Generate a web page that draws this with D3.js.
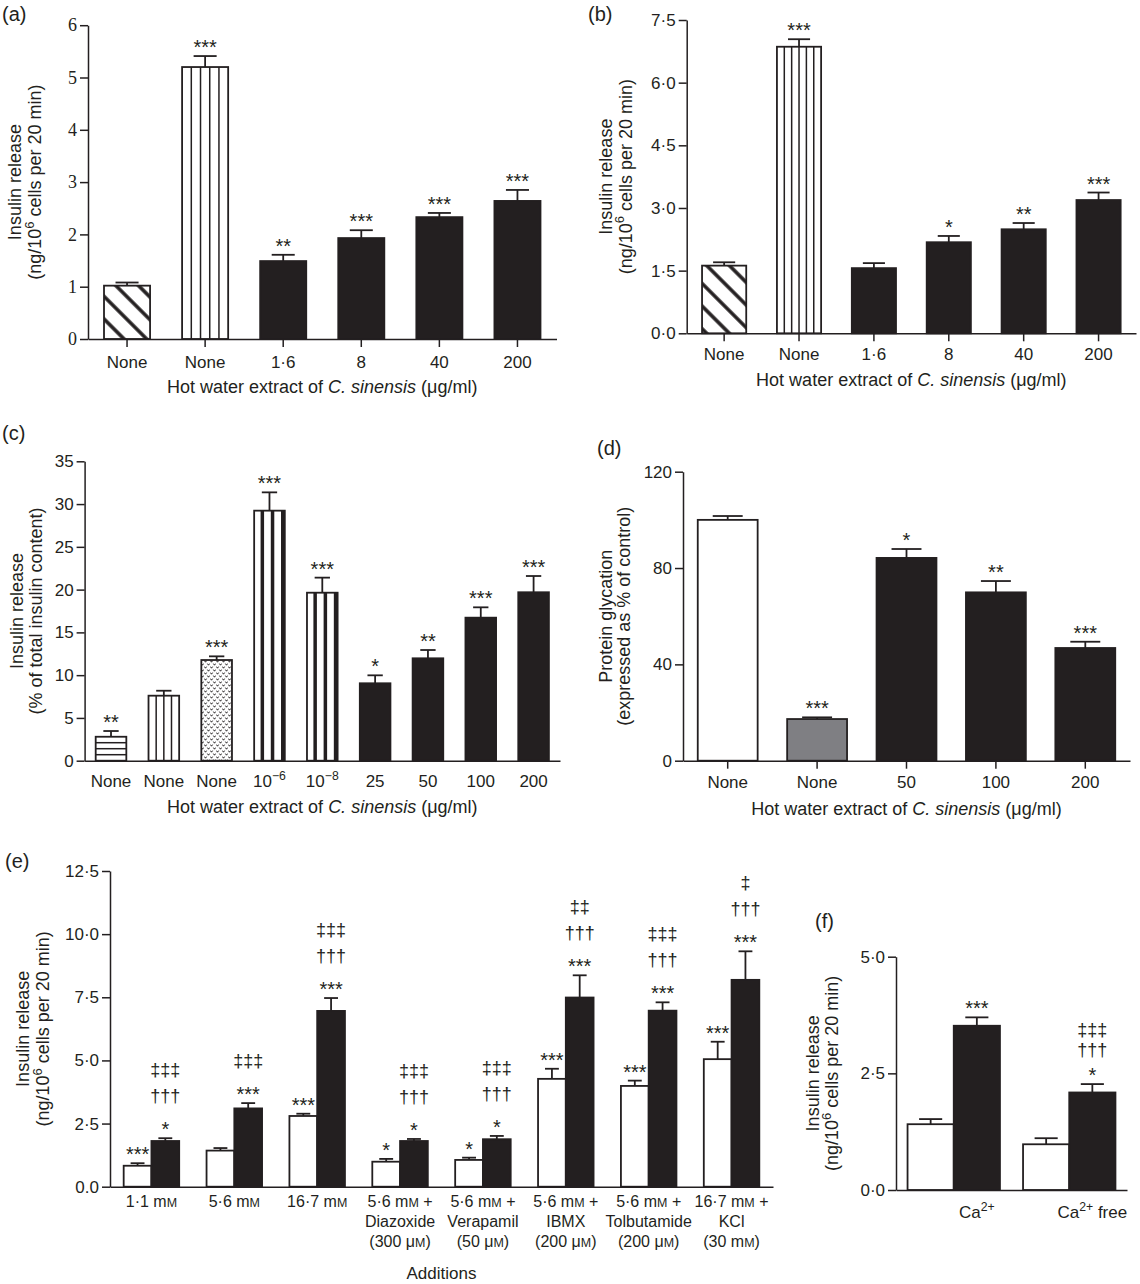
<!DOCTYPE html>
<html>
<head>
<meta charset="utf-8">
<script src="https://cdn.jsdelivr.net/npm/d3@7"></script>
<style>
  body { margin: 0; background: #fff; }
  svg text { font-family: "Liberation Sans", Arial, sans-serif; fill: #231f20; }
</style>
</head>
<body>
<svg id="fig" width="1140" height="1284"></svg>
<script>
// ---- data ----
// (a)
const aLabels = ["None", "None", "1·6", "8", "40", "200"];
const aGroup = ["basal", "stimulated", "extract", "extract", "extract", "extract"];
const aValues = [1.02, 5.20, 1.49, 1.93, 2.33, 2.64];
const aErrors = [0.06, 0.21, 0.12, 0.15, 0.08, 0.21];
const aStars = ["", "***", "**", "***", "***", "***"];
const aTicks = [0, 1, 2, 3, 4, 5, 6];
const aTickLabels = ["0", "1", "2", "3", "4", "5", "6"];

// (b)
const bLabels = ["None", "None", "1·6", "8", "40", "200"];
const bGroup = ["basal", "stimulated", "extract", "extract", "extract", "extract"];
const bValues = [1.62, 6.86, 1.56, 2.18, 2.49, 3.19];
const bErrors = [0.08, 0.18, 0.12, 0.15, 0.15, 0.18];
const bStars = ["", "***", "", "*", "**", "***"];
const bTicks = [0, 1.5, 3, 4.5, 6, 7.5];
const bTickLabels = ["0·0", "1·5", "3·0", "4·5", "6·0", "7·5"];

// (c)
const cLabels = ["None", "None", "None", "10^{−6}", "10^{−8}", "25", "50", "100", "200"];
const cGroup = ["low", "basal", "alanine", "glp1", "glp1", "extract", "extract", "extract", "extract"];
const cValues = [2.8, 7.6, 11.77, 29.23, 19.64, 9.05, 11.97, 16.72, 19.69];
const cErrors = [0.67, 0.58, 0.43, 2.14, 1.76, 0.93, 0.97, 1.21, 1.9];
const cStars = ["**", "", "***", "***", "***", "*", "**", "***", "***"];
const cTicks = [0, 5, 10, 15, 20, 25, 30, 35];

// (d)
const dLabels = ["None", "None", "50", "100", "200"];
const dGroup = ["control", "aminoguanidine", "extract", "extract", "extract"];
const dValues = [100, 17.3, 84.2, 69.9, 46.8];
const dErrors = [1.6, 0.7, 3.7, 4.7, 2.6];
const dStars = ["", "***", "*", "**", "***"];
const dTicks = [0, 40, 80, 120];

// (e)
const eLabels = [
  ["1·1 m~M"], ["5·6 m~M"], ["16·7 m~M"],
  ["5·6 m~M +", "Diazoxide", "(300 μ~M)"],
  ["5·6 m~M +", "Verapamil", "(50 μ~M)"],
  ["5·6 m~M +", "IBMX", "(200 μ~M)"],
  ["5·6 m~M +", "Tolbutamide", "(200 μ~M)"],
  ["16·7 m~M +", "KCl", "(30 m~M)"]
];
const eWhite = [0.83, 1.43, 2.80, 0.99, 1.06, 4.27, 3.99, 5.05];
const eWhiteErr = [0.10, 0.10, 0.09, 0.11, 0.09, 0.40, 0.21, 0.69];
const eBlack = [1.81, 3.10, 6.96, 1.81, 1.88, 7.49, 6.97, 8.19];
const eBlackErr = [0.11, 0.21, 0.51, 0.08, 0.13, 0.88, 0.33, 1.13];
const eWhiteMarks = [["***"], [], ["***"], ["*"], ["*"], ["***"], ["***"], ["***"]];
const eBlackMarks = [
  ["*", "†††", "‡‡‡"], ["***", "‡‡‡"], ["***", "†††", "‡‡‡"], ["*", "†††", "‡‡‡"],
  ["*", "†††", "‡‡‡"], ["***", "†††", "‡‡"], ["***", "†††", "‡‡‡"], ["***", "†††", "‡"]
];
const eTicks = [0, 2.5, 5, 7.5, 10, 12.5];
const eTickLabels = ["0.0", "2·5", "5·0", "7·5", "10·0", "12·5"];

// (f)
const fLabels = ["Ca^{2+}", "Ca^{2+} free"];
const fWhite = [1.41, 0.98];
const fWhiteErr = [0.11, 0.13];
const fBlack = [3.52, 2.09];
const fBlackErr = [0.18, 0.18];
const fWhiteMarks = [[], []];
const fBlackMarks = [["***"], ["*", "†††", "‡‡‡"]];
const fTicks = [0, 2.5, 5];
const fTickLabels = ["0·0", "2·5", "5·0"];

const xTitleExtract = "Hot water extract of _{C. sinensis} (μg/ml)";
const yTitleRelease = ["Insulin release", "(ng/10^{6} cells per 20 min)"];

// ---- drawing ----
const INK = "#231f20";
const svg = d3.select("#fig");
svg.append("rect").attr("width", 1140).attr("height", 1284).attr("fill", "#fff");

const defs = svg.append("defs");
const diag = defs.append("pattern").attr("id", "diag").attr("patternUnits", "userSpaceOnUse")
  .attr("width", 16).attr("height", 16).attr("patternTransform", "rotate(45)");
diag.append("rect").attr("width", 16).attr("height", 16).attr("fill", "#fff");
diag.append("line").attr("x1", -1).attr("x2", 17).attr("y1", 8).attr("y2", 8)
  .attr("stroke", INK).attr("stroke-width", 3.5);
// little "v" marks in staggered rows
const dots = defs.append("pattern").attr("id", "dots").attr("patternUnits", "userSpaceOnUse")
  .attr("width", 6).attr("height", 6);
dots.append("rect").attr("width", 6).attr("height", 6).attr("fill", "#fff");
dots.append("path").attr("d", "M0.4,0.6 L1.5,2.2 L2.6,0.6 M3.4,3.6 L4.5,5.2 L5.6,3.6")
  .attr("fill", "none").attr("stroke", INK).attr("stroke-width", 1);

// small markup: ^{..} superscript, _{..} italic, ~M small capital M
function rich(text, str, fs) {
  text.text(null).attr("font-size", fs);
  const parts = str.split(/(\^\{[^}]*\}|_\{[^}]*\}|~M)/).filter(s => s.length);
  let back = 0;
  for (const p of parts) {
    let t;
    if (p.startsWith("^{")) {
      t = text.append("tspan").attr("font-size", fs * 0.72).text(p.slice(2, -1));
      t.attr("dy", -fs * 0.4 + back);
      back = fs * 0.4;
      continue;
    }
    if (p === "~M") t = text.append("tspan").attr("font-size", fs * 0.78).text("M");
    else if (p.startsWith("_{")) t = text.append("tspan").attr("font-style", "italic").text(p.slice(2, -1));
    else t = text.append("tspan").text(p);
    if (back) { t.attr("dy", back); back = 0; }
  }
}

function vline(g, xx, top, bottom, w) {
  g.append("line").attr("x1", xx).attr("x2", xx).attr("y1", top).attr("y2", bottom)
    .attr("stroke", INK).attr("stroke-width", w);
}

function paintBar(g, bx, top, bw, bottom, style) {
  let fill = "#fff";
  if (style === "black") fill = INK;
  else if (style === "grey") fill = "#7f7f83";
  else if (style === "diag") fill = "url(#diag)";
  else if (style === "dots") fill = "url(#dots)";
  g.append("rect").attr("x", bx).attr("y", top).attr("width", bw).attr("height", bottom - top).attr("fill", fill);
  const m = /^v(\d+)$/.exec(style);
  if (m) {
    const n = +m[1];
    for (let k = 1; k < n; k++) vline(g, bx + bw * k / n, top, bottom, 1.5);
  }
  if (style === "thick") {
    for (let k = 0; k < 3; k++) vline(g, bx + bw * (k + 0.8) / 3, top, bottom, 3.5);
  }
  if (style === "h") {
    for (let yy = bottom - 6; yy > top + 2; yy -= 6) {
      g.append("line").attr("x1", bx).attr("x2", bx + bw).attr("y1", yy).attr("y2", yy)
        .attr("stroke", INK).attr("stroke-width", 1.5);
    }
  }
  g.append("rect").attr("x", bx).attr("y", top).attr("width", bw).attr("height", bottom - top)
    .attr("fill", "none").attr("stroke", INK).attr("stroke-width", 1.8);
}

function errorBar(g, cx, bw, yTop, yErr) {
  g.append("line").attr("x1", cx).attr("x2", cx).attr("y1", yTop).attr("y2", yErr)
    .attr("stroke", INK).attr("stroke-width", 1.8);
  g.append("line").attr("x1", cx - bw / 4).attr("x2", cx + bw / 4).attr("y1", yErr).attr("y2", yErr)
    .attr("stroke", INK).attr("stroke-width", 1.8);
}

function marks(g, cx, yErr, list, firstGap, lineGap) {
  list.forEach((s, k) => {
    const yy = k === 0 ? yErr - 2 : yErr - firstGap - (k - 1) * lineGap;
    g.append("text").attr("x", cx).attr("y", yy).attr("text-anchor", "middle")
      .attr("font-size", k === 0 ? 20 : 18).text(s);
  });
}

function yAxis(g, y, x0, ticks, labels, serif) {
  const ax = g.append("g").attr("transform", `translate(${x0},0)`)
    .call(d3.axisLeft(y).tickValues(ticks).tickFormat((d, i) => labels ? labels[i] : d)
      .tickSize(8).tickSizeOuter(0).tickPadding(3));
  ax.selectAll("path,line").attr("stroke", INK).attr("stroke-width", 1.5);
  ax.selectAll("text").attr("font-size", serif ? 18 : 17);
  if (serif) ax.selectAll("text").style("font-family", "'Liberation Serif', 'Times New Roman', serif");
}

function yTitle(g, x, ymid, lines, offs) {
  const t = g.append("g").attr("transform", `translate(${x + offs[0]},${ymid}) rotate(-90)`);
  lines.forEach((s, i) => {
    const tx = t.append("text").attr("x", 0).attr("y", i === 0 ? 0 : offs[1] - offs[0])
      .attr("text-anchor", "middle");
    rich(tx, s, 18);
  });
}

function letter(x, y, s) {
  svg.append("text").attr("x", x).attr("y", y).attr("font-size", 20).text(s);
}

function simplePanel(o) {
  const g = svg.append("g");
  const x = d3.scaleBand().domain(d3.range(o.labels.length)).range(o.xr)
    .paddingInner(o.pad).paddingOuter(o.pad / 2);
  const y = d3.scaleLinear().domain([0, d3.max(o.ticks)]).range(o.yr);
  const bw = x.bandwidth();
  o.values.forEach((v, i) => {
    const cx = x(i) + bw / 2;
    errorBar(g, cx, bw, y(v), y(v + o.errors[i]));
    paintBar(g, x(i), y(v), bw, y(0), o.style[o.group[i]]);
    if (o.stars[i]) marks(g, cx, y(v + o.errors[i]), [o.stars[i]], 0, 0);
  });
  const xa = g.append("g").attr("transform", `translate(0,${o.yr[0]})`)
    .call(d3.axisBottom(x).tickSize(o.xtick).tickSizeOuter(0).tickFormat(""));
  xa.selectAll("path,line").attr("stroke", INK).attr("stroke-width", 1.5);
  yAxis(g, y, o.xr[0], o.ticks, o.tickLabels, o.serif);
  o.labels.forEach((s, i) => {
    const t = g.append("text").attr("x", x(i) + bw / 2).attr("y", o.yr[0] + o.labelDy)
      .attr("text-anchor", "middle");
    rich(t, s, 17);
  });
  const tt = g.append("text").attr("x", (o.xr[0] + o.xr[1]) / 2).attr("y", o.yr[0] + o.titleDy)
    .attr("text-anchor", "middle");
  rich(tt, o.xTitle, 18);
  yTitle(g, o.xr[0], (o.yr[0] + o.yr[1]) / 2, o.yTitle, o.yTitleOff);
}

function groupPanel(o) {
  const g = svg.append("g");
  const n = o.white.length;
  const x0 = d3.scaleBand().domain(d3.range(n)).range(o.xr).paddingInner(o.pad).paddingOuter(o.pad / 2);
  const x1 = d3.scaleBand().domain([0, 1]).range([0, x0.bandwidth()]);
  const y = d3.scaleLinear().domain([0, d3.max(o.ticks)]).range(o.yr);
  const bw = x1.bandwidth();
  const series = [
    { v: o.white, e: o.whiteErr, m: o.whiteMarks, style: "white" },
    { v: o.black, e: o.blackErr, m: o.blackMarks, style: "black" }
  ];
  series.forEach((s, j) => {
    s.v.forEach((v, i) => {
      const bx = x0(i) + x1(j), cx = bx + bw / 2;
      errorBar(g, cx, bw, y(v), y(v + s.e[i]));
      paintBar(g, bx, y(v), bw, y(0), s.style);
      marks(g, cx, y(v + s.e[i]), s.m[i], o.firstGap, o.lineGap);
    });
  });
  const xa = g.append("g").attr("transform", `translate(0,${o.yr[0]})`)
    .call(d3.axisBottom(x0).tickSize(0).tickSizeOuter(0).tickFormat(""));
  xa.selectAll("path,line").attr("stroke", INK).attr("stroke-width", 1.5);
  yAxis(g, y, o.xr[0], o.ticks, o.tickLabels, false);
  o.labels.forEach((lines, i) => {
    const cx = o.labelUnderBlack ? x0(i) + x1(1) + bw / 2 : x0(i) + x0.bandwidth() / 2;
    [].concat(lines).forEach((s, k) => {
      const t = g.append("text").attr("x", cx).attr("y", o.yr[0] + o.labelDy + k * 20)
        .attr("text-anchor", "middle");
      rich(t, s, o.labelSize);
    });
  });
  if (o.xTitle) {
    g.append("text").attr("x", (o.xr[0] + o.xr[1]) / 2).attr("y", o.xTitleY)
      .attr("text-anchor", "middle").attr("font-size", 17).text(o.xTitle);
  }
  yTitle(g, o.xr[0], (o.yr[0] + o.yr[1]) / 2, o.yTitle, o.yTitleOff);
}

// (a)
simplePanel({
  labels: aLabels, group: aGroup, values: aValues, errors: aErrors, stars: aStars,
  ticks: aTicks, tickLabels: aTickLabels, serif: true,
  style: { basal: "diag", stimulated: "v5", extract: "black" },
  xr: [88, 556.5], yr: [339, 25.2], pad: 0.41, xtick: 8, labelDy: 29, titleDy: 54,
  xTitle: xTitleExtract, yTitle: yTitleRelease, yTitleOff: [-67, -47]
});
letter(2, 21, "(a)");

// (b)
simplePanel({
  labels: bLabels, group: bGroup, values: bValues, errors: bErrors, stars: bStars,
  ticks: bTicks, tickLabels: bTickLabels,
  style: { basal: "diag", stimulated: "v6", extract: "black" },
  xr: [686.7, 1136], yr: [333.3, 20], pad: 0.41, xtick: 8, labelDy: 27, titleDy: 53,
  xTitle: xTitleExtract, yTitle: yTitleRelease, yTitleOff: [-75, -55]
});
letter(588, 21, "(b)");

// (c)
simplePanel({
  labels: cLabels, group: cGroup, values: cValues, errors: cErrors, stars: cStars,
  ticks: cTicks, tickLabels: null,
  style: { low: "h", basal: "v4", alanine: "dots", glp1: "thick", extract: "black" },
  xr: [84.6, 560], yr: [760.7, 461.3], pad: 0.42, xtick: 0, labelDy: 26, titleDy: 52,
  xTitle: xTitleExtract, yTitle: ["Insulin release", "(% of total insulin content)"], yTitleOff: [-62, -43]
});
letter(2, 440, "(c)");

// (d)
simplePanel({
  labels: dLabels, group: dGroup, values: dValues, errors: dErrors, stars: dStars,
  ticks: dTicks, tickLabels: null,
  style: { control: "white", aminoguanidine: "grey", extract: "black" },
  xr: [683, 1130], yr: [760.7, 471.7], pad: 0.33, xtick: 8, labelDy: 27, titleDy: 54,
  xTitle: xTitleExtract, yTitle: ["Protein glycation", "(expressed as % of control)"], yTitleOff: [-71, -53]
});
letter(597, 455, "(d)");

// (e)
groupPanel({
  labels: eLabels, white: eWhite, whiteErr: eWhiteErr, black: eBlack, blackErr: eBlackErr,
  whiteMarks: eWhiteMarks, blackMarks: eBlackMarks, ticks: eTicks, tickLabels: eTickLabels,
  xr: [110, 773], yr: [1186.7, 871], pad: 0.33, labelDy: 20.5, labelSize: 16,
  firstGap: 36, lineGap: 26, xTitle: "Additions", xTitleY: 1279,
  yTitle: yTitleRelease, yTitleOff: [-81, -61]
});
letter(5, 868, "(e)");

// (f)
groupPanel({
  labels: fLabels, white: fWhite, whiteErr: fWhiteErr, black: fBlack, blackErr: fBlackErr,
  whiteMarks: fWhiteMarks, blackMarks: fBlackMarks, ticks: fTicks, tickLabels: fTickLabels,
  xr: [896, 1127], yr: [1190, 956.7], pad: 0.2, labelDy: 28, labelSize: 17, labelUnderBlack: true,
  firstGap: 28, lineGap: 20, yTitle: yTitleRelease, yTitleOff: [-77, -58]
});
letter(815, 928, "(f)");
</script>
</body>
</html>
